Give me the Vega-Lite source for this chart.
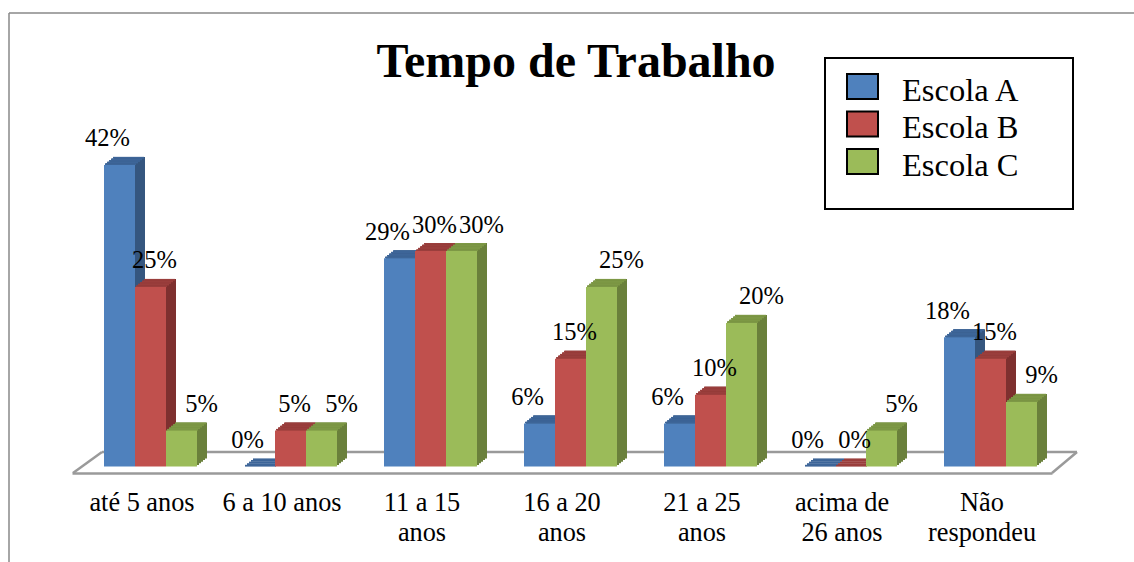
{
  "$schema": "https://vega.github.io/schema/vega-lite/v6.json",
  "width": 980,
  "height": 460,
  "autosize": {"type": "none"},
  "padding": {"left": 72, "top": 13, "right": 82, "bottom": 89},
  "background": "white",
  "config": {"view": {"stroke": null}, "font": "Liberation Serif"},
  "title": {"text": "Tempo de Trabalho", "font": "Liberation Serif", "fontSize": 48, "fontWeight": "bold", "color": "black", "anchor": "middle", "frame": "group", "dx": 14, "baseline": "alphabetic", "offset": -113},
  "data": {"values": [
    {"cat": "até 5 anos", "escola": "Escola A", "v": 0.42},
    {"cat": "até 5 anos", "escola": "Escola B", "v": 0.25},
    {"cat": "até 5 anos", "escola": "Escola C", "v": 0.05},
    {"cat": "6 a 10 anos", "escola": "Escola A", "v": 0},
    {"cat": "6 a 10 anos", "escola": "Escola B", "v": 0.05},
    {"cat": "6 a 10 anos", "escola": "Escola C", "v": 0.05},
    {"cat": "11 a 15\nanos", "escola": "Escola A", "v": 0.29},
    {"cat": "11 a 15\nanos", "escola": "Escola B", "v": 0.30},
    {"cat": "11 a 15\nanos", "escola": "Escola C", "v": 0.30},
    {"cat": "16 a 20\nanos", "escola": "Escola A", "v": 0.06},
    {"cat": "16 a 20\nanos", "escola": "Escola B", "v": 0.15},
    {"cat": "16 a 20\nanos", "escola": "Escola C", "v": 0.25},
    {"cat": "21 a 25\nanos", "escola": "Escola A", "v": 0.06},
    {"cat": "21 a 25\nanos", "escola": "Escola B", "v": 0.10},
    {"cat": "21 a 25\nanos", "escola": "Escola C", "v": 0.20},
    {"cat": "acima de\n26 anos", "escola": "Escola A", "v": 0},
    {"cat": "acima de\n26 anos", "escola": "Escola B", "v": 0},
    {"cat": "acima de\n26 anos", "escola": "Escola C", "v": 0.05},
    {"cat": "Não\nrespondeu", "escola": "Escola A", "v": 0.18},
    {"cat": "Não\nrespondeu", "escola": "Escola B", "v": 0.15},
    {"cat": "Não\nrespondeu", "escola": "Escola C", "v": 0.09}
  ]},
  "layer": [
    {
      "data": {"values": [{}]},
      "layer": [
        {"mark": {"type": "rule", "color": "#898989", "strokeWidth": 1.5, "xOffset": -63, "x2Offset": 200},
         "encoding": {"x": {"datum": "até 5 anos", "type": "nominal", "bandPosition": 0, "title": null}, "x2": {"datum": "Não\nrespondeu"}, "y": {"datum": 0.6316, "type": "quantitative", "axis": null}}},
        {"mark": {"type": "rule", "color": "#898989", "strokeWidth": 1.5, "xOffset": -63, "y2Offset": 100},
         "encoding": {"x": {"datum": "até 5 anos", "type": "nominal", "bandPosition": 0, "title": null}, "y": {"datum": 0.6316, "type": "quantitative", "axis": null}, "y2": {"datum": -0.00905}}},
        {"mark": {"type": "rule", "color": "#9a9a9a", "strokeWidth": 2.5, "xOffset": 30, "x2Offset": 95},
         "encoding": {"x": {"datum": "até 5 anos", "type": "nominal", "bandPosition": 0, "title": null}, "x2": {"datum": "Não\nrespondeu"}, "y": {"datum": 0.0202, "type": "quantitative", "axis": null}}},
        {"mark": {"type": "rule", "color": "#9a9a9a", "strokeWidth": 2.5, "xOffset": 1, "x2Offset": -40},
         "encoding": {"x": {"datum": "até 5 anos", "type": "nominal", "bandPosition": 0, "title": null}, "x2": {"datum": "até 5 anos"}, "y": {"datum": -0.00905, "type": "quantitative", "axis": null}, "y2": {"datum": 0.0202}}},
        {"mark": {"type": "rule", "color": "#9a9a9a", "strokeWidth": 2.5, "xOffset": 0, "x2Offset": 95},
         "encoding": {"x": {"datum": "Não\nrespondeu", "type": "nominal", "bandPosition": 1, "title": null}, "x2": {"datum": "Não\nrespondeu"}, "y": {"datum": -0.00905, "type": "quantitative", "axis": null}, "y2": {"datum": 0.0202}}}
      ]
    },
    {
      "transform": [{"filter": "datum.escola == 'Escola A'"}],
      "encoding": {
        "x": {"field": "cat", "type": "nominal", "sort": null, "title": null,
              "scale": {"domain": ["até 5 anos", "6 a 10 anos", "11 a 15\nanos", "16 a 20\nanos", "21 a 25\nanos", "acima de\n26 anos", "Não\nrespondeu"], "paddingInner": 0, "paddingOuter": 0},
              "axis": {"title": null, "ticks": false, "grid": false, "domainColor": "#9a9a9a", "domainWidth": 2.5, "labelFont": "Liberation Serif", "labelFontSize": 26.3, "labelColor": "black", "labelPadding": 37, "labelAlign": "center", "labelBaseline": "alphabetic", "labelLineHeight": 30, "labelAngle": 0, "labelLimit": 300, "labelExpr": "split(datum.label, '\\n')"}},
        "y": {"field": "v", "type": "quantitative", "scale": {"domain": [-0.00905, 0.6316], "nice": false, "zero": false}, "axis": null}
      },
      "layer": [
        {"mark": {"type": "bar", "width": 31, "color": "#35567F", "xOffset": -20.5, "yOffset": -1.6, "y2Offset": -1.6}},
        {"mark": {"type": "bar", "width": 31, "color": "#35567F", "xOffset": -18.5, "yOffset": -3.2, "y2Offset": -3.2}},
        {"mark": {"type": "bar", "width": 31, "color": "#35567F", "xOffset": -16.5, "yOffset": -4.8, "y2Offset": -4.8}},
        {"mark": {"type": "bar", "width": 31, "color": "#35567F", "xOffset": -14.5, "yOffset": -6.4, "y2Offset": -6.4}},
        {"mark": {"type": "bar", "width": 31, "color": "#35567F", "xOffset": -12.5, "yOffset": -8, "y2Offset": -8}},
        {"mark": {"type": "tick", "orient": "horizontal", "size": 31, "thickness": 1.8, "opacity": 1, "color": "#3D6598", "xOffset": -21.5, "yOffset": -0.8}},
        {"mark": {"type": "tick", "orient": "horizontal", "size": 31, "thickness": 1.8, "opacity": 1, "color": "#3D6598", "xOffset": -19.5, "yOffset": -2.4}},
        {"mark": {"type": "tick", "orient": "horizontal", "size": 31, "thickness": 1.8, "opacity": 1, "color": "#3D6598", "xOffset": -17.5, "yOffset": -4}},
        {"mark": {"type": "tick", "orient": "horizontal", "size": 31, "thickness": 1.8, "opacity": 1, "color": "#3D6598", "xOffset": -15.5, "yOffset": -5.6}},
        {"mark": {"type": "tick", "orient": "horizontal", "size": 31, "thickness": 1.8, "opacity": 1, "color": "#3D6598", "xOffset": -13.5, "yOffset": -7.2}},
        {"mark": {"type": "bar", "width": 31, "xOffset": -22.5},
         "encoding": {"color": {"field": "escola", "type": "nominal",
           "scale": {"domain": ["Escola A", "Escola B", "Escola C"], "range": ["#4F81BD", "#C0504D", "#9BBB59"]},
           "legend": {"orient": "none", "legendX": 753, "legendY": 45,
             "title": "\u00a0", "titleOrient": "bottom", "titleFontSize": 12, "titlePadding": 4,
             "padding": 12, "strokeColor": "black", "fillColor": "white",
             "symbolType": "M-1,-0.8H1V0.8H-1Z", "symbolSize": 961, "symbolOffset": 9,
             "labelFont": "Liberation Serif", "labelFontSize": 32.5, "labelColor": "black", "labelOffset": 23, "rowPadding": 0.5, "labelLimit": 300,
             "labelExpr": "datum.label + '\u00a0\u00a0\u00a0\u00a0\u00a0\u200b'",
             "encode": {
               "symbols": {"update": {"fill": {"signal": "datum.value == 'Escola A' ? '#558ED5' : datum.value == 'Escola B' ? '#FF5050' : '#92D050'"}, "stroke": {"value": "black"}, "strokeWidth": {"value": 2}, "opacity": {"value": 1}}},
               "labels": {"update": {"dy": {"value": 4}}},
               "legend": {"update": {"strokeWidth": {"value": 2}}}
             }}}}}
      ]
    },
    {
      "transform": [{"filter": "datum.escola == 'Escola B'"}],
      "encoding": {
        "x": {"field": "cat", "type": "nominal", "sort": null, "title": null},
        "y": {"field": "v", "type": "quantitative", "axis": null}
      },
      "layer": [
        {"mark": {"type": "bar", "width": 31, "color": "#7E302F", "xOffset": 10.5, "yOffset": -1.6, "y2Offset": -1.6}},
        {"mark": {"type": "bar", "width": 31, "color": "#7E302F", "xOffset": 12.5, "yOffset": -3.2, "y2Offset": -3.2}},
        {"mark": {"type": "bar", "width": 31, "color": "#7E302F", "xOffset": 14.5, "yOffset": -4.8, "y2Offset": -4.8}},
        {"mark": {"type": "bar", "width": 31, "color": "#7E302F", "xOffset": 16.5, "yOffset": -6.4, "y2Offset": -6.4}},
        {"mark": {"type": "bar", "width": 31, "color": "#7E302F", "xOffset": 18.5, "yOffset": -8, "y2Offset": -8}},
        {"mark": {"type": "tick", "orient": "horizontal", "size": 31, "thickness": 1.8, "opacity": 1, "color": "#9A3E3C", "xOffset": 9.5, "yOffset": -0.8}},
        {"mark": {"type": "tick", "orient": "horizontal", "size": 31, "thickness": 1.8, "opacity": 1, "color": "#9A3E3C", "xOffset": 11.5, "yOffset": -2.4}},
        {"mark": {"type": "tick", "orient": "horizontal", "size": 31, "thickness": 1.8, "opacity": 1, "color": "#9A3E3C", "xOffset": 13.5, "yOffset": -4}},
        {"mark": {"type": "tick", "orient": "horizontal", "size": 31, "thickness": 1.8, "opacity": 1, "color": "#9A3E3C", "xOffset": 15.5, "yOffset": -5.6}},
        {"mark": {"type": "tick", "orient": "horizontal", "size": 31, "thickness": 1.8, "opacity": 1, "color": "#9A3E3C", "xOffset": 17.5, "yOffset": -7.2}},
        {"mark": {"type": "bar", "width": 31, "xOffset": 8.5},
         "encoding": {"color": {"field": "escola", "type": "nominal", "legend": null}}}
      ]
    },
    {
      "transform": [{"filter": "datum.escola == 'Escola C'"}],
      "encoding": {
        "x": {"field": "cat", "type": "nominal", "sort": null, "title": null},
        "y": {"field": "v", "type": "quantitative", "axis": null}
      },
      "layer": [
        {"mark": {"type": "bar", "width": 31, "color": "#6A803B", "xOffset": 41.5, "yOffset": -1.6, "y2Offset": -1.6}},
        {"mark": {"type": "bar", "width": 31, "color": "#6A803B", "xOffset": 43.5, "yOffset": -3.2, "y2Offset": -3.2}},
        {"mark": {"type": "bar", "width": 31, "color": "#6A803B", "xOffset": 45.5, "yOffset": -4.8, "y2Offset": -4.8}},
        {"mark": {"type": "bar", "width": 31, "color": "#6A803B", "xOffset": 47.5, "yOffset": -6.4, "y2Offset": -6.4}},
        {"mark": {"type": "bar", "width": 31, "color": "#6A803B", "xOffset": 49.5, "yOffset": -8, "y2Offset": -8}},
        {"mark": {"type": "tick", "orient": "horizontal", "size": 31, "thickness": 1.8, "opacity": 1, "color": "#7D9845", "xOffset": 40.5, "yOffset": -0.8}},
        {"mark": {"type": "tick", "orient": "horizontal", "size": 31, "thickness": 1.8, "opacity": 1, "color": "#7D9845", "xOffset": 42.5, "yOffset": -2.4}},
        {"mark": {"type": "tick", "orient": "horizontal", "size": 31, "thickness": 1.8, "opacity": 1, "color": "#7D9845", "xOffset": 44.5, "yOffset": -4}},
        {"mark": {"type": "tick", "orient": "horizontal", "size": 31, "thickness": 1.8, "opacity": 1, "color": "#7D9845", "xOffset": 46.5, "yOffset": -5.6}},
        {"mark": {"type": "tick", "orient": "horizontal", "size": 31, "thickness": 1.8, "opacity": 1, "color": "#7D9845", "xOffset": 48.5, "yOffset": -7.2}},
        {"mark": {"type": "bar", "width": 31, "xOffset": 39.5},
         "encoding": {"color": {"field": "escola", "type": "nominal", "legend": null}}}
      ]
    },
    {
      "encoding": {
        "x": {"field": "cat", "type": "nominal", "sort": null, "title": null},
        "y": {"field": "v", "type": "quantitative", "axis": null},
        "text": {"field": "v", "type": "quantitative", "format": ".0%"}
      },
      "layer": [
        {"transform": [{"filter": "datum.escola == 'Escola A'"}],
         "mark": {"type": "text", "font": "Liberation Serif", "fontSize": 24.5, "color": "black", "baseline": "alphabetic", "dy": -18.5, "xOffset": -34.5}},
        {"transform": [{"filter": "datum.escola == 'Escola B'"}],
         "mark": {"type": "text", "font": "Liberation Serif", "fontSize": 24.5, "color": "black", "baseline": "alphabetic", "dy": -18.5, "xOffset": 12.5}},
        {"transform": [{"filter": "datum.escola == 'Escola C'"}],
         "mark": {"type": "text", "font": "Liberation Serif", "fontSize": 24.5, "color": "black", "baseline": "alphabetic", "dy": -18.5, "xOffset": 59.5}}
      ]
    }
  ]
}
